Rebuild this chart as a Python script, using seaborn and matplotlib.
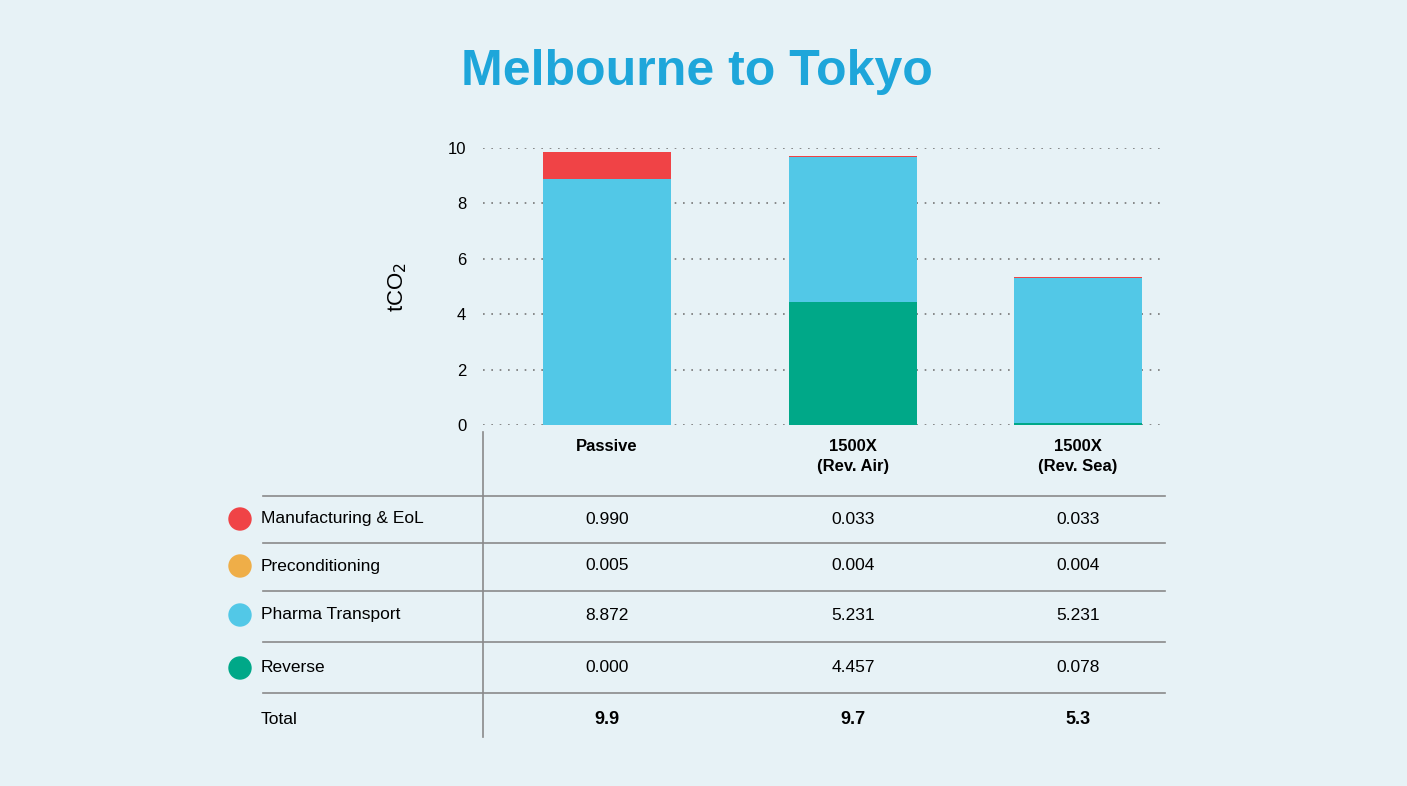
import numpy as np
import pandas as pd
import matplotlib.pyplot as plt
import seaborn as sns
from matplotlib.lines import Line2D
from matplotlib.patches import Ellipse

# -----------------------------
# Data
# -----------------------------
categories = ["Passive", "1500X\n(Rev. Air)", "1500X\n(Rev. Sea)"]
series = ["Manufacturing & EoL", "Preconditioning", "Pharma Transport", "Reverse"]
manufacturing = [0.990, 0.033, 0.033]
preconditioning = [0.005, 0.004, 0.004]
pharma = [8.872, 5.231, 5.231]
reverse = [0.000, 4.457, 0.078]
totals = ["9.9", "9.7", "5.3"]
colors = {"Manufacturing & EoL": "#f04346", "Preconditioning": "#efae48",
          "Pharma Transport": "#52c8e7", "Reverse": "#00a888"}

bg = "#e7f2f6"
W, H = 1407, 786
plt.rcParams["font.family"] = "Liberation Sans"
fig = plt.figure(figsize=(W / 100, H / 100), dpi=100, facecolor=bg)

def fx(px):
    return px / W

def fy(py):
    return 1 - py / H

ax = fig.add_axes([fx(483), fy(425), fx(1165) - fx(483), fy(148) - fy(425)])
ax.set_facecolor(bg)

# stacked bars: draw cumulative totals from top layer down
values = {"Reverse": reverse, "Pharma Transport": pharma,
          "Preconditioning": preconditioning, "Manufacturing & EoL": manufacturing}
stack_order = ["Reverse", "Pharma Transport", "Preconditioning", "Manufacturing & EoL"]
cum = np.zeros(len(categories))
layers = []
for s in stack_order:
    cum = cum + np.array(values[s])
    layers.append((s, cum.copy()))
for s, c in reversed(layers):
    df = pd.DataFrame({"cat": categories, "val": c})
    sns.barplot(data=df, x="cat", y="val", color=colors[s], saturation=1,
                width=0.54, ax=ax, linewidth=0)

# place bars at measured pixel centres
centres = [607, 853, 1078]
scale = (1078 - 607) / 2
ax.set_xlim(-(607 - 483) / scale, (1165 - 607) / scale)
for i, patch in enumerate(ax.patches):
    target = (centres[i % 3] - 607) / scale
    patch.set_x(target - patch.get_width() / 2)

ax.set_ylim(0, 10)
ax.set_yticks([0, 2, 4, 6, 8, 10])
ax.grid(axis="y", linestyle=(0, (1, 4)), color="#777777", linewidth=1.2)
ax.set_axisbelow(True)
for sp in ax.spines.values():
    sp.set_visible(False)
ax.tick_params(axis="y", length=0, labelsize=12, pad=12)
ax.tick_params(axis="x", length=0, pad=10)
ax.set_xticks([(c - 607) / scale for c in centres])
ax.set_xticklabels(categories, fontsize=12, fontweight="bold", linespacing=1.4)
ax.set_xlabel("")
ax.set_ylabel("tCO$_2$", fontsize=16, labelpad=28)

# title
fig.text(fx(697), fy(72), "Melbourne to Tokyo", ha="center", va="center",
         fontsize=36, fontweight="bold", color="#1ea6da")

# table
line_color = "#8a8a8a"
for y in [496, 543, 591, 642, 693]:
    fig.add_artist(Line2D([fx(263), fx(1165)], [fy(y), fy(y)], color=line_color, lw=1.2))
fig.add_artist(Line2D([fx(483), fx(483)], [fy(432), fy(737)], color=line_color, lw=1.2))

row_y = [519, 566, 615, 668]
table_vals = [manufacturing, preconditioning, pharma, reverse]
for name, y, vals in zip(series, row_y, table_vals):
    fig.add_artist(Ellipse((fx(240), fy(y)), 22 / W, 22 / H,
                           transform=fig.transFigure, color=colors[name]))
    fig.text(fx(261), fy(y), name, ha="left", va="center", fontsize=12.5)
    for c, v in zip(centres, vals):
        fig.text(fx(c), fy(y), f"{v:.3f}", ha="center", va="center", fontsize=12.5)
fig.text(fx(261), fy(720), "Total", ha="left", va="center", fontsize=12.5)
for c, t in zip(centres, totals):
    fig.text(fx(c), fy(720), t, ha="center", va="center", fontsize=13, fontweight="bold")

fig.savefig("out.png", dpi=100, facecolor=bg)
